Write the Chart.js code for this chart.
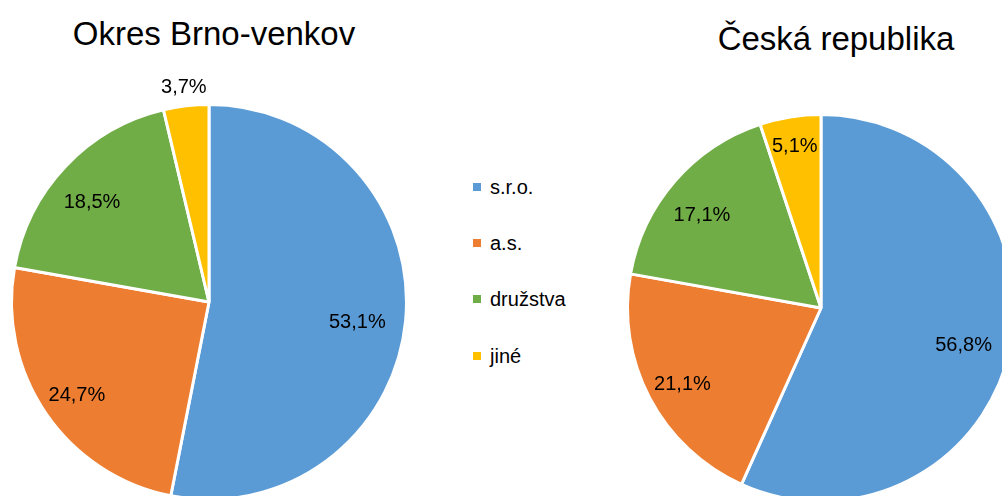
<!DOCTYPE html>
<html lang="cs">
<head>
<meta charset="UTF-8">
<script src="https://cdn.jsdelivr.net/npm/chart.js"></script>
<title>Právní forma podniků</title>
<style>
  html, body { margin: 0; padding: 0; width: 1002px; height: 496px; overflow: hidden; background: #fff; }
  body { position: relative; font-family: "Liberation Sans", Arial, sans-serif; color: #000; }
  .title { position: absolute; width: 400px; text-align: center; font-size: 33px; line-height: 33px; white-space: nowrap; }
  .pie { position: absolute; top: 0; }
  #legend { position: absolute; left: 473px; top: 159px; margin: 0; padding: 0; list-style: none; }
  #legend li { display: flex; align-items: center; height: 56.2px; font-size: 20px; line-height: 20px; }
  #legend span { display: inline-block; width: 8px; height: 8px; margin-right: 9px; }
</style>
</head>
<body>
<div class="title" style="left: 14px; top: 17px;">Okres Brno-venkov</div>
<div class="title" style="left: 636px; top: 22px;">Česká republika</div>

<canvas id="pie-okres" class="pie" width="418" height="604" style="left: 0;"></canvas>
<canvas id="pie-cr" class="pie" width="400" height="616" style="left: 621px;"></canvas>
<ul id="legend"></ul>

<script>
// categories and shares (%)
const categories = ['s.r.o.', 'a.s.', 'družstva', 'jiné'];
const okresValues = [53.1, 24.7, 18.5, 3.7];
const crValues = [56.8, 21.1, 17.1, 5.1];

const colors = ['#5B9BD5', '#ED7D31', '#70AD47', '#FFC000'];
const labelFont = '20px "Liberation Sans", Arial, sans-serif';

function fmt(v) {
    return v.toFixed(1).replace('.', ',') + '%';
}

// percent labels: inside the slice (a bit down-left, like Excel's best fit),
// small slices pushed out
const pctLabels = {
    id: 'pctLabels',
    afterDatasetsDraw(chart) {
        const ctx = chart.ctx;
        const values = chart.data.datasets[0].data;
        const meta = chart.getDatasetMeta(0);
        ctx.save();
        ctx.font = labelFont;
        ctx.fillStyle = '#000';
        ctx.textAlign = 'center';
        ctx.textBaseline = 'middle';
        meta.data.forEach((arc, i) => {
            const p = arc.getProps(['x', 'y', 'startAngle', 'endAngle', 'outerRadius'], true);
            const v = values[i];
            let k = 0.78, dx = -5, dy = 6;
            if (v < 4) { k = 1.1; dx = 0; dy = 1; }
            else if (v < 6) { k = 0.85; dx = 0; dy = 1; }
            const a = (p.startAngle + p.endAngle) / 2;
            ctx.fillText(fmt(v), p.x + Math.cos(a) * p.outerRadius * k + dx, p.y + Math.sin(a) * p.outerRadius * k + dy);
        });
        ctx.restore();
    }
};

function makePie(id, values, radius) {
    return new Chart(document.getElementById(id), {
        type: 'pie',
        data: {
            labels: categories,
            datasets: [{
                data: values,
                backgroundColor: colors,
                borderColor: '#fff',
                borderWidth: 3
            }]
        },
        options: {
            responsive: false,
            animation: false,
            devicePixelRatio: 1,
            events: [],
            radius: radius,
            layout: { padding: 0 },
            plugins: {
                legend: { display: false },
                tooltip: { enabled: false },
                title: { display: false }
            }
        },
        plugins: [pctLabels]
    });
}

const okres = makePie('pie-okres', okresValues, 197.5);
makePie('pie-cr', crValues, 193.5);

// shared legend built from the chart's own legend items
const legendEl = document.getElementById('legend');
okres.options.plugins.legend.labels.generateLabels(okres).forEach(item => {
    const li = document.createElement('li');
    const box = document.createElement('span');
    box.style.background = item.fillStyle;
    li.appendChild(box);
    li.appendChild(document.createTextNode(item.text));
    legendEl.appendChild(li);
});
</script>
</body>
</html>
